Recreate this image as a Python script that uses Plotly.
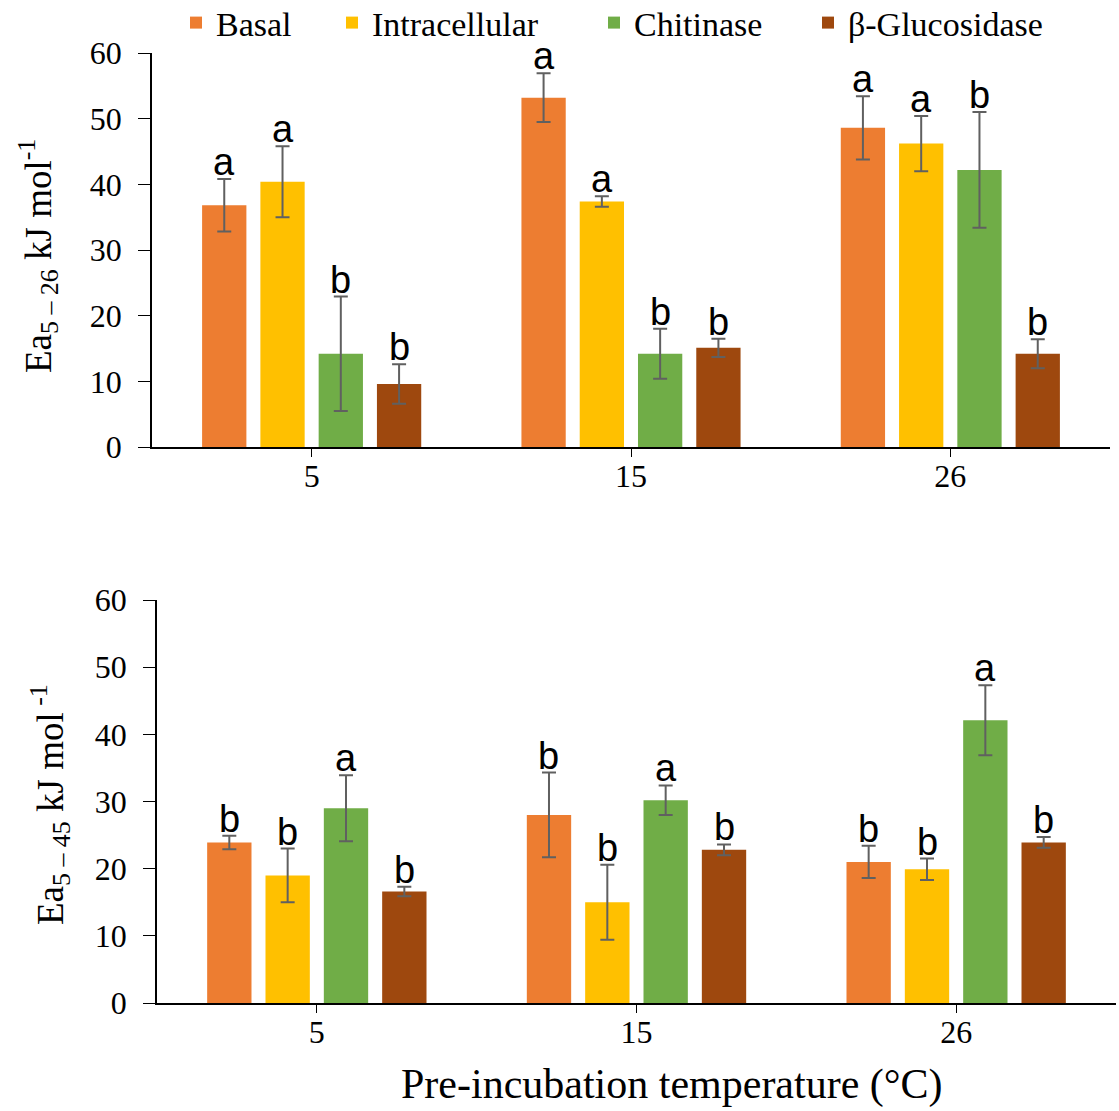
import plotly.graph_objects as go

temps = ["5", "15", "26"]
series = ["Basal", "Intracellular", "Chitinase", "β-Glucosidase"]
colors = ["#ED7D31", "#FFC000", "#70AD47", "#9E480E"]

# Top panel: Ea 5-26
top_vals = {
    "Basal": [36.8, 53.2, 48.6],
    "Intracellular": [40.4, 37.4, 46.2],
    "Chitinase": [14.2, 14.2, 42.2],
    "β-Glucosidase": [9.6, 15.1, 14.2],
}
top_err = {
    "Basal": [4.0, 3.7, 4.8],
    "Intracellular": [5.4, 0.8, 4.2],
    "Chitinase": [8.7, 3.8, 8.8],
    "β-Glucosidase": [3.0, 1.4, 2.2],
}
top_letters = {
    "Basal": ["a", "a", "a"],
    "Intracellular": ["a", "a", "a"],
    "Chitinase": ["b", "b", "b"],
    "β-Glucosidase": ["b", "b", "b"],
}

# Bottom panel: Ea 5-45
bot_vals = {
    "Basal": [23.9, 28.0, 21.0],
    "Intracellular": [19.0, 15.0, 19.9],
    "Chitinase": [29.0, 30.2, 42.1],
    "β-Glucosidase": [16.6, 22.8, 23.9],
}
bot_err = {
    "Basal": [1.0, 6.3, 2.4],
    "Intracellular": [4.0, 5.6, 1.6],
    "Chitinase": [4.9, 2.2, 5.2],
    "β-Glucosidase": [0.7, 0.8, 0.8],
}
bot_letters = {
    "Basal": ["b", "b", "b"],
    "Intracellular": ["b", "b", "b"],
    "Chitinase": ["a", "a", "a"],
    "β-Glucosidase": ["b", "b", "b"],
}

W, H = 1119, 1111
BARGAP = 0.27
GROUPGAP = 0.24
SERIF = "Liberation Serif"
SANS = "Liberation Sans"
legend_names = ["legend", "legend2", "legend3", "legend4"]
legend_left_px = [176, 332, 594, 808]

fig = go.Figure()
xs = list(range(len(temps)))

for panel, (vals, errs, xa, ya) in enumerate([
    (top_vals, top_err, "x", "y"),
    (bot_vals, bot_err, "x2", "y2"),
]):
    for j, s in enumerate(series):
        fig.add_trace(go.Bar(
            x=xs, y=vals[s], name=s,
            xaxis=xa, yaxis=ya,
            marker=dict(color=colors[j], line=dict(width=0)),
            error_y=dict(type="data", array=errs[s], visible=True,
                         color="#606060", thickness=2, width=7),
            showlegend=(panel == 0), legendgroup=s, legend=legend_names[j],
        ))

annotations = []
slot = (1 - BARGAP) / len(series)
for vals, errs, lets, xa, ya in [
    (top_vals, top_err, top_letters, "x", "y"),
    (bot_vals, bot_err, bot_letters, "x2", "y2"),
]:
    for j, s in enumerate(series):
        for i in xs:
            annotations.append(dict(
                x=i + (j - 1.5) * slot, y=vals[s][i] + errs[s][i],
                xref=xa, yref=ya, text=lets[s][i], showarrow=False,
                yanchor="bottom", xanchor="center", yshift=-6,
                font=dict(family=SANS, size=38, color="black"),
            ))

annotations.append(dict(
    x=38 / W, y=1 - 256 / H, xref="paper", yref="paper",
    text="Ea<sub>5 – 26</sub> kJ mol<sup>-1</sup>", textangle=-90,
    showarrow=False, xanchor="center", yanchor="middle",
    font=dict(family=SERIF, size=37, color="black"),
))
annotations.append(dict(
    x=50 / W, y=1 - 805 / H, xref="paper", yref="paper",
    text="Ea<sub>5 – 45</sub> kJ mol<sup> -1</sup>", textangle=-90,
    showarrow=False, xanchor="center", yanchor="middle",
    font=dict(family=SERIF, size=37, color="black"),
))
annotations.append(dict(
    x=672 / W, y=1 - 1084 / H, xref="paper", yref="paper",
    text="Pre-incubation temperature (°C)",
    showarrow=False, xanchor="center", yanchor="middle",
    font=dict(family=SERIF, size=42, color="black"),
))

axis_common = dict(showline=True, linecolor="black", linewidth=1.5,
                   showgrid=False, zeroline=False, ticks="outside",
                   automargin=False,
                   tickcolor="black", tickfont=dict(family=SERIF, size=32, color="black"))

legend_style = dict(orientation="h", y=1 - 23 / H, xanchor="left", yanchor="middle",
                    font=dict(family=SERIF, size=34, color="black"),
                    itemwidth=30, bgcolor="rgba(0,0,0,0)")

fig.update_layout(
    width=W, height=H,
    margin=dict(l=0, r=0, t=0, b=0, autoexpand=False),
    plot_bgcolor="white", paper_bgcolor="white",
    barmode="group", bargap=BARGAP, bargroupgap=GROUPGAP,
    xaxis=dict(domain=[152 / W, 1110 / W], anchor="y", range=[-0.5, 2.5],
               tickvals=xs, ticktext=temps, ticklen=8, ticklabelstandoff=-8,
               **axis_common),
    yaxis=dict(domain=[1 - 447 / H, 1 - 53 / H], anchor="x", range=[0, 60],
               dtick=10, ticklen=12, ticklabelstandoff=10, **axis_common),
    xaxis2=dict(domain=[157 / W, 1116 / W], anchor="y2", range=[-0.5, 2.5],
                tickvals=xs, ticktext=temps, ticklen=8, ticklabelstandoff=-8,
                **axis_common),
    yaxis2=dict(domain=[1 - 1003 / H, 1 - 600 / H], anchor="x2", range=[0, 60],
                dtick=10, ticklen=12, ticklabelstandoff=10, **axis_common),
    annotations=annotations,
    shapes=[
        dict(type="line", xref="x", yref="y", x0=2.5, x1=2.5, y0=0, y1=-8,
             ysizemode="pixel", yanchor=0, line=dict(color="black", width=1.5)),
        dict(type="line", xref="x2", yref="y2", x0=2.5, x1=2.5, y0=0, y1=-8,
             ysizemode="pixel", yanchor=0, line=dict(color="black", width=1.5)),
    ],
)
fig.update_layout({name: dict(x=px / W, **legend_style)
                   for name, px in zip(legend_names, legend_left_px)})

fig.write_html("out.html")
